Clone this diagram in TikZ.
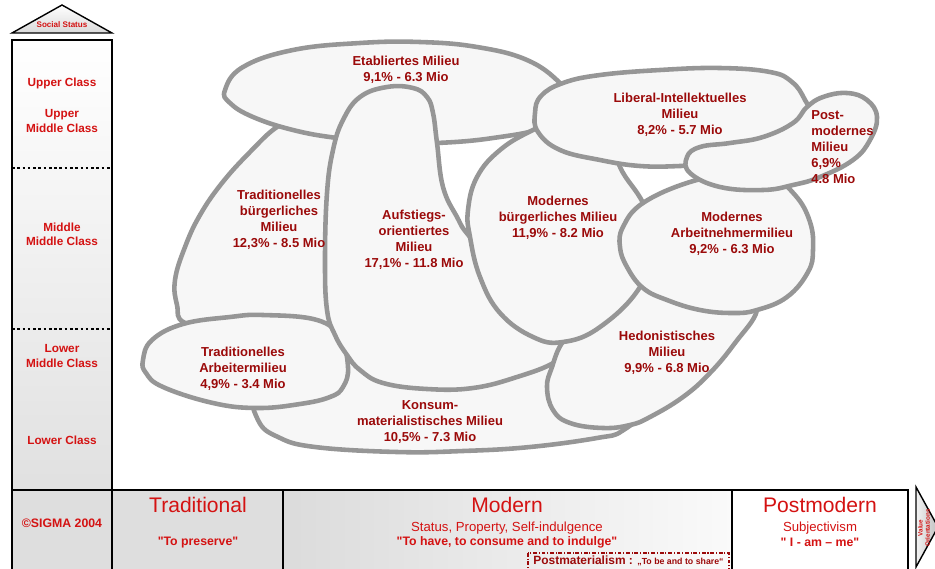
\documentclass[tikz,border=0pt]{standalone}
\usepackage{fontspec}
\setmainfont{Liberation Sans}[Ligatures=TeXOff]
\definecolor{sigred}{RGB}{212,18,18}
\definecolor{milred}{RGB}{155,10,10}
\definecolor{blobline}{RGB}{150,150,150}
\definecolor{blobfill}{RGB}{247,247,247}
\tikzset{
  milieu/.style={draw=blobline, line width=2.6pt, fill=blobfill, line join=round},
  miltext/.style={text=milred, font=\bfseries\fontsize{7.4}{9.1}\selectfont, align=center, inner sep=0pt},
  classtext/.style={text=sigred, font=\bfseries\fontsize{6.7}{8}\selectfont, align=center, inner sep=0pt},
  frame/.style={draw=black, line width=1.2pt},
  orienttitle/.style={text=sigred, font=\fontsize{12}{14}\selectfont, inner sep=0pt},
  orientsub/.style={text=sigred, font=\fontsize{7.5}{9}\selectfont, inner sep=0pt},
  orientquote/.style={text=sigred, font=\bfseries\fontsize{7}{8.5}\selectfont, inner sep=0pt},
}
\begin{document}
\begin{tikzpicture}[x=0.02cm, y=-0.02cm]
\clip (0,0) rectangle (935,568);
% social status axis
\shade[top color=white, bottom color=black!15, draw=black, line width=0.8pt] (12,33) -- (62,5) -- (112,33) -- cycle;
\node[text=sigred, font=\bfseries\fontsize{4.6}{5}\selectfont, inner sep=0pt] (status) at (62,25) {Social Status};
\shade[top color=white, bottom color=black!12] (12,40) rectangle (112,490);
\draw[frame] (12,40) rectangle (112,490);
\draw[line width=1.2pt, dash pattern=on 1.5pt off 1.5pt] (12,168) -- (112,168);
\draw[line width=1.2pt, dash pattern=on 1.5pt off 1.5pt] (12,329) -- (112,329);
\node[classtext] (upper) at (62,83) {Upper Class};
\node[classtext] (uppermid) at (62,121) {Upper\\Middle Class};
\node[classtext] (midmid) at (62,234) {Middle\\Middle Class};
\node[classtext] (lowermid) at (62,356) {Lower\\Middle Class};
\node[classtext] (lower) at (62,440) {Lower Class};
% value orientations axis
\fill[black!13] (12,490) rectangle (283,575);
\shade[left color=black!14, right color=black!2] (283,490) rectangle (732,575);
\draw[frame] (12,490) rectangle (908,575);
\draw[frame] (112,490) -- (112,575);
\draw[frame] (283,490) -- (283,575);
\draw[frame] (732,490) -- (732,575);
\shade[left color=black!5, right color=black!25, draw=black, line width=0.8pt] (916,487) -- (938,527) -- (916,567) -- cycle;
\node[text=sigred, font=\bfseries\fontsize{3.6}{4.2}\selectfont, align=center, inner sep=0pt, rotate=90] (value) at (924,528) {Value\\Orientations};
\node[orientquote] (sigma) at (62,523) {©SIGMA 2004};
\node[orienttitle] (trad) at (198,505) {Traditional};
\node[orientquote] (tradq) at (198,543) {"To preserve"};
\node[orienttitle] (modern) at (507,505) {Modern};
\node[orientsub] (modsub) at (507,528) {Status, Property, Self-indulgence};
\node[orientquote] (modq) at (507,542) {"To have, to consume and to indulge"};
\node[orienttitle] (postm) at (820,505) {Postmodern};
\node[orientsub] (postsub) at (820,528) {Subjectivism};
\node[orientquote] (postq) at (820,542) {" I - am – me"};
\draw[draw=milred, line width=1.1pt, dash pattern=on 2.2pt off 1pt on 0.6pt off 1pt] (528,553) rectangle (729,580);
\node[anchor=west, text=milred, inner sep=0pt] (postmat) at (533,561) {\bfseries\fontsize{6.8}{8}\selectfont Postmaterialism : {\fontsize{5}{6}\selectfont „To be and to share“}};
% milieus, lowest first
\draw[milieu] plot[smooth cycle, tension=0.7] coordinates {(252,385) (258,420) (278,437) (315,447) (397,452) (463,451) (530,447) (597,438) (622,431) (640,410) (620,380) (540,362) (440,357) (340,362) (280,370)};
\draw[milieu] plot[smooth cycle, tension=0.7] coordinates {(277,127) (250,152) (222,183) (200,215) (185,247) (175,280) (177,305) (185,323) (230,332) (300,335) (338,325) (345,290) (340,200) (340,140) (300,118)};
\draw[milieu] plot[smooth cycle, tension=0.7] coordinates {(225,90) (243,67) (293,50) (360,43) (420,42) (477,47) (527,60) (560,83) (575,105) (545,127) (493,138) (437,143) (390,143) (337,138) (293,130) (253,117) (230,103)};
\draw[milieu] plot[smooth cycle, tension=0.7] coordinates {(143,360) (152,340) (183,324) (230,317) (263,315) (317,320) (340,338) (348,367) (343,387) (330,397) (300,404) (257,408) (213,403) (163,387) (146,373)};
\draw[milieu] plot[smooth cycle, tension=0.7] coordinates {(343,120) (360,97) (387,87) (413,88) (427,97) (433,113) (437,143) (443,187) (457,217) (470,237) (510,280) (570,345) (555,362) (517,377) (473,388) (427,389) (383,383) (360,370) (347,355) (335,335) (327,310) (325,260) (327,193) (333,150)};
\draw[milieu] plot[smooth cycle, tension=0.7] coordinates {(562,343) (552,367) (547,387) (553,410) (570,423) (603,428) (630,425) (650,417) (683,397) (710,373) (735,343) (757,310) (745,290) (700,270) (640,270) (580,325)};
\draw[milieu] plot[smooth cycle, tension=0.7] coordinates {(470,237) (468,210) (477,177) (500,150) (533,130) (570,115) (610,130) (620,167) (643,203) (655,240) (640,287) (600,327) (563,342) (533,337) (500,313) (480,277)};
\draw[milieu] plot[smooth cycle, tension=0.7] coordinates {(535,113) (541,96) (563,83) (600,75) (660,70) (720,68) (770,72) (792,82) (805,100) (815,125) (790,145) (720,163) (680,166) (640,166) (600,160) (560,150) (538,132)};
\draw[milieu] plot[smooth cycle, tension=0.7] coordinates {(623,227) (643,203) (690,182) (730,176) (770,177) (795,195) (810,222) (813,250) (808,272) (787,297) (757,310) (733,313) (700,310) (667,300) (643,288) (627,267) (620,247)};
\draw[milieu] plot[smooth cycle, tension=0.7] coordinates {(807,107) (823,97) (847,93) (867,100) (877,117) (870,140) (853,160) (820,177) (793,185) (763,190) (720,187) (690,173) (687,157) (700,147) (730,143) (763,137) (793,123)};
% milieu labels
\node[miltext] (etab) at (406,70) {Etabliertes Milieu\\9,1\% - 6.3 Mio};
\node[miltext] (libint) at (680,115) {Liberal-Intellektuelles\\Milieu\\8,2\% - 5.7 Mio};
\node[miltext, align=left, anchor=west] (postmod) at (811,147) {Post-\\modernes\\Milieu\\6,9\%\\4.8 Mio};
\node[miltext] (tradbuerg) at (279,220) {Traditionelles\\bürgerliches\\Milieu\\12,3\% - 8.5 Mio};
\node[miltext] (aufstieg) at (414,240) {Aufstiegs-\\orientiertes\\Milieu\\17,1\% - 11.8 Mio};
\node[miltext] (modbuerg) at (558,218) {Modernes\\bürgerliches Milieu\\11,9\% - 8.2 Mio};
\node[miltext] (modarb) at (732,234) {Modernes\\Arbeitnehmermilieu\\9,2\% - 6.3 Mio};
\node[miltext] (hedo) at (667,353) {Hedonistisches\\Milieu\\9,9\% - 6.8 Mio};
\node[miltext] (tradarb) at (243,369) {Traditionelles\\Arbeitermilieu\\4,9\% - 3.4 Mio};
\node[miltext] (konsum) at (430,422) {Konsum-\\materialistisches Milieu\\10,5\% - 7.3 Mio};
\end{tikzpicture}
\end{document}
